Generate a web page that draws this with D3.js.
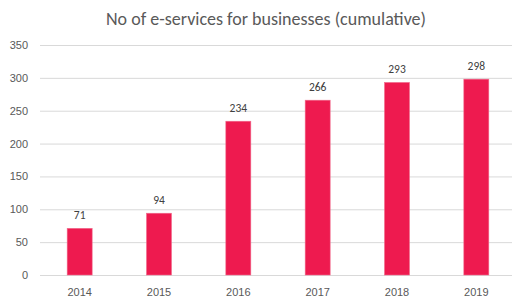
<!DOCTYPE html>
<html>
<head>
<meta charset="utf-8">
<script src="https://cdn.jsdelivr.net/npm/d3@7"></script>
<style>
	body { margin: 0; background: #fff; }
	svg { display: block; font-family: Carlito, "Open Sans", "Liberation Sans", sans-serif; }
</style>
</head>
<body>
<script>
const years = ['2014', '2015', '2016', '2017', '2018', '2019'];
const services = [71, 94, 234, 266, 293, 298];
const yTicks = [0, 50, 100, 150, 200, 250, 300, 350];
const title = 'No of e-services for businesses (cumulative)';

const width = 512, height = 298;
const margin = {left: 40, right: -4, top: 45, bottom: 23};

const svg = d3.select('body').append('svg')
	.attr('width', width)
	.attr('height', height);

const x = d3.scaleBand()
	.domain(years)
	.range([margin.left, width - margin.right])
	.paddingInner(0.685)
	.paddingOuter(0.3425);

const y = d3.scaleLinear()
	.domain([0, 350])
	.range([height - margin.bottom, margin.top]);

// title
svg.append('text')
	.attr('x', width / 2 + 10)
	.attr('y', 25)
	.attr('text-anchor', 'middle')
	.attr('fill', '#595959')
	.style('font-size', '18px')
	.text(title);

// gridlines + y labels
const yAxis = d3.axisLeft(y)
	.tickValues(yTicks)
	.tickSize(-(width - margin.left))
	.tickPadding(12);

const gy = svg.append('g')
	.attr('transform', `translate(${margin.left},0)`)
	.call(yAxis);
gy.select('.domain').remove();
gy.selectAll('.tick line').attr('stroke', '#d9d9d9');
gy.selectAll('.tick text')
	.attr('fill', '#595959')
	.style('font-size', '11px')
	.style('font-family', 'inherit');

// x labels
const xAxis = d3.axisBottom(x).tickSize(0).tickPadding(13);
const gx = svg.append('g')
	.attr('transform', `translate(0,${height - margin.bottom})`)
	.call(xAxis);
gx.select('.domain').remove();
gx.selectAll('.tick text')
	.attr('fill', '#595959')
	.style('font-size', '11px')
	.style('font-family', 'inherit');

// bars
svg.append('g')
	.selectAll('rect')
	.data(services)
	.join('rect')
	.attr('x', (d, i) => x(years[i]))
	.attr('y', d => y(d))
	.attr('width', x.bandwidth())
	.attr('height', d => y(0) - y(d))
	.attr('fill', '#ee1a4f')
	.attr('stroke', '#f06a8c')
	.attr('stroke-width', 0.6);

// value labels
svg.append('g')
	.selectAll('text')
	.data(services)
	.join('text')
	.attr('x', (d, i) => x(years[i]) + x.bandwidth() / 2)
	.attr('y', d => y(d) - 9)
	.attr('text-anchor', 'middle')
	.attr('fill', '#404040')
	.style('font-size', '11.5px')
	.text(d => d);
</script>
</body>
</html>
